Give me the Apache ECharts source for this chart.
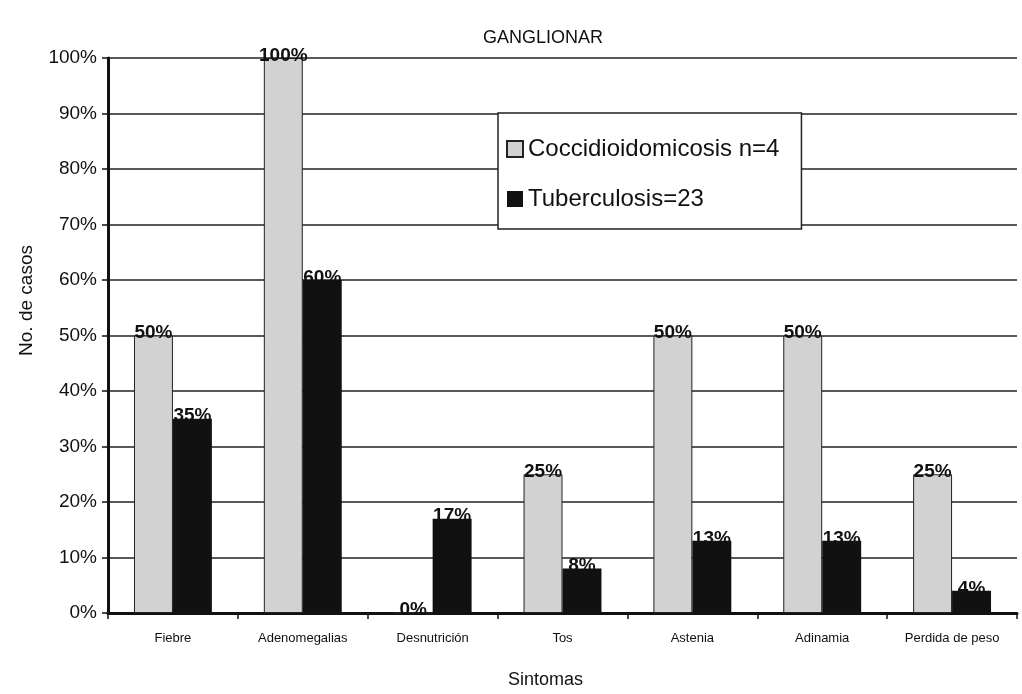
<!DOCTYPE html>
<html>
<head>
<meta charset="utf-8">
<script src="https://cdn.jsdelivr.net/npm/echarts@6/dist/echarts.min.js"></script>
<style>
  html, body { margin: 0; padding: 0; background: #fff; }
  #chart { width: 1022px; height: 694px; }
</style>
</head>
<body>
<div id="chart"></div>
<script>
const FONT = "'Liberation Sans', Arial, sans-serif";

const categories = ['Fiebre', 'Adenomegalias', 'Desnutrición', 'Tos', 'Astenia', 'Adinamia', 'Perdida de peso'];
const cocciValues = [50, 100, 0, 25, 50, 50, 25];
const tbValues = [35, 60, 17, 8, 13, 13, 4];
const seriesNames = ['Coccidioidomicosis n=4', 'Tuberculosis=23'];

const chart = echarts.init(document.getElementById('chart'));

const labelStyle = {
  show: true,
  position: 'top',
  distance: -7,
  formatter: p => p.value + '%',
  color: '#111',
  fontFamily: FONT,
  fontSize: 19,
  fontWeight: 'bold'
};

chart.setOption({
  animation: false,
  backgroundColor: '#fff',
  textStyle: { fontFamily: FONT, color: '#111' },
  title: {
    text: 'GANGLIONAR',
    left: 538,
    top: 24,
    textAlign: 'center',
    textStyle: { fontFamily: FONT, fontSize: 18, fontWeight: 'normal', color: '#111' }
  },
  legend: {
    orient: 'vertical',
    left: 498,
    top: 113,
    padding: [24, 22, 18, 8],
    itemGap: 26,
    itemWidth: 16,
    itemHeight: 16,
    icon: 'rect',
    backgroundColor: '#fff',
    borderColor: '#222',
    borderWidth: 1.5,
    borderRadius: 0,
    textStyle: { fontFamily: FONT, fontSize: 24, color: '#111' },
    data: seriesNames
  },
  grid: { left: 108, right: 5, top: 58, bottom: 81 },
  xAxis: {
    type: 'category',
    data: categories,
    name: 'Sintomas',
    nameLocation: 'middle',
    nameGap: 58,
    nameTextStyle: { fontFamily: FONT, fontSize: 18, color: '#111', padding: [0, 34, 0, 0] },
    axisLine: { lineStyle: { color: '#111', width: 3 } },
    axisTick: { show: true, alignWithLabel: false, interval: 0, length: 6, lineStyle: { color: '#111', width: 1.5 } },
    axisLabel: { interval: 0, fontFamily: FONT, fontSize: 13, color: '#111', margin: 19 }
  },
  yAxis: {
    type: 'value',
    min: 0,
    max: 100,
    interval: 10,
    name: 'No. de casos',
    nameLocation: 'middle',
    nameGap: 72,
    nameRotate: 90,
    nameTextStyle: { fontFamily: FONT, fontSize: 19, color: '#111', padding: [0, 0, 0, 70] },
    axisLine: { show: true, lineStyle: { color: '#111', width: 3 } },
    axisTick: { show: true, length: 6, lineStyle: { color: '#111', width: 1.5 } },
    axisLabel: { formatter: '{value}%', fontFamily: FONT, fontSize: 19, color: '#111', margin: 11 },
    splitLine: { show: true, lineStyle: { color: '#222', width: 1.5 } }
  },
  series: [
    {
      name: seriesNames[0],
      type: 'bar',
      data: cocciValues,
      barGap: '0%',
      barCategoryGap: '40%',
      itemStyle: { color: '#d2d2d2', borderColor: '#222', borderWidth: 1 },
      label: labelStyle
    },
    {
      name: seriesNames[1],
      type: 'bar',
      data: tbValues,
      itemStyle: { color: '#111' },
      label: labelStyle
    }
  ]
});
</script>
</body>
</html>
